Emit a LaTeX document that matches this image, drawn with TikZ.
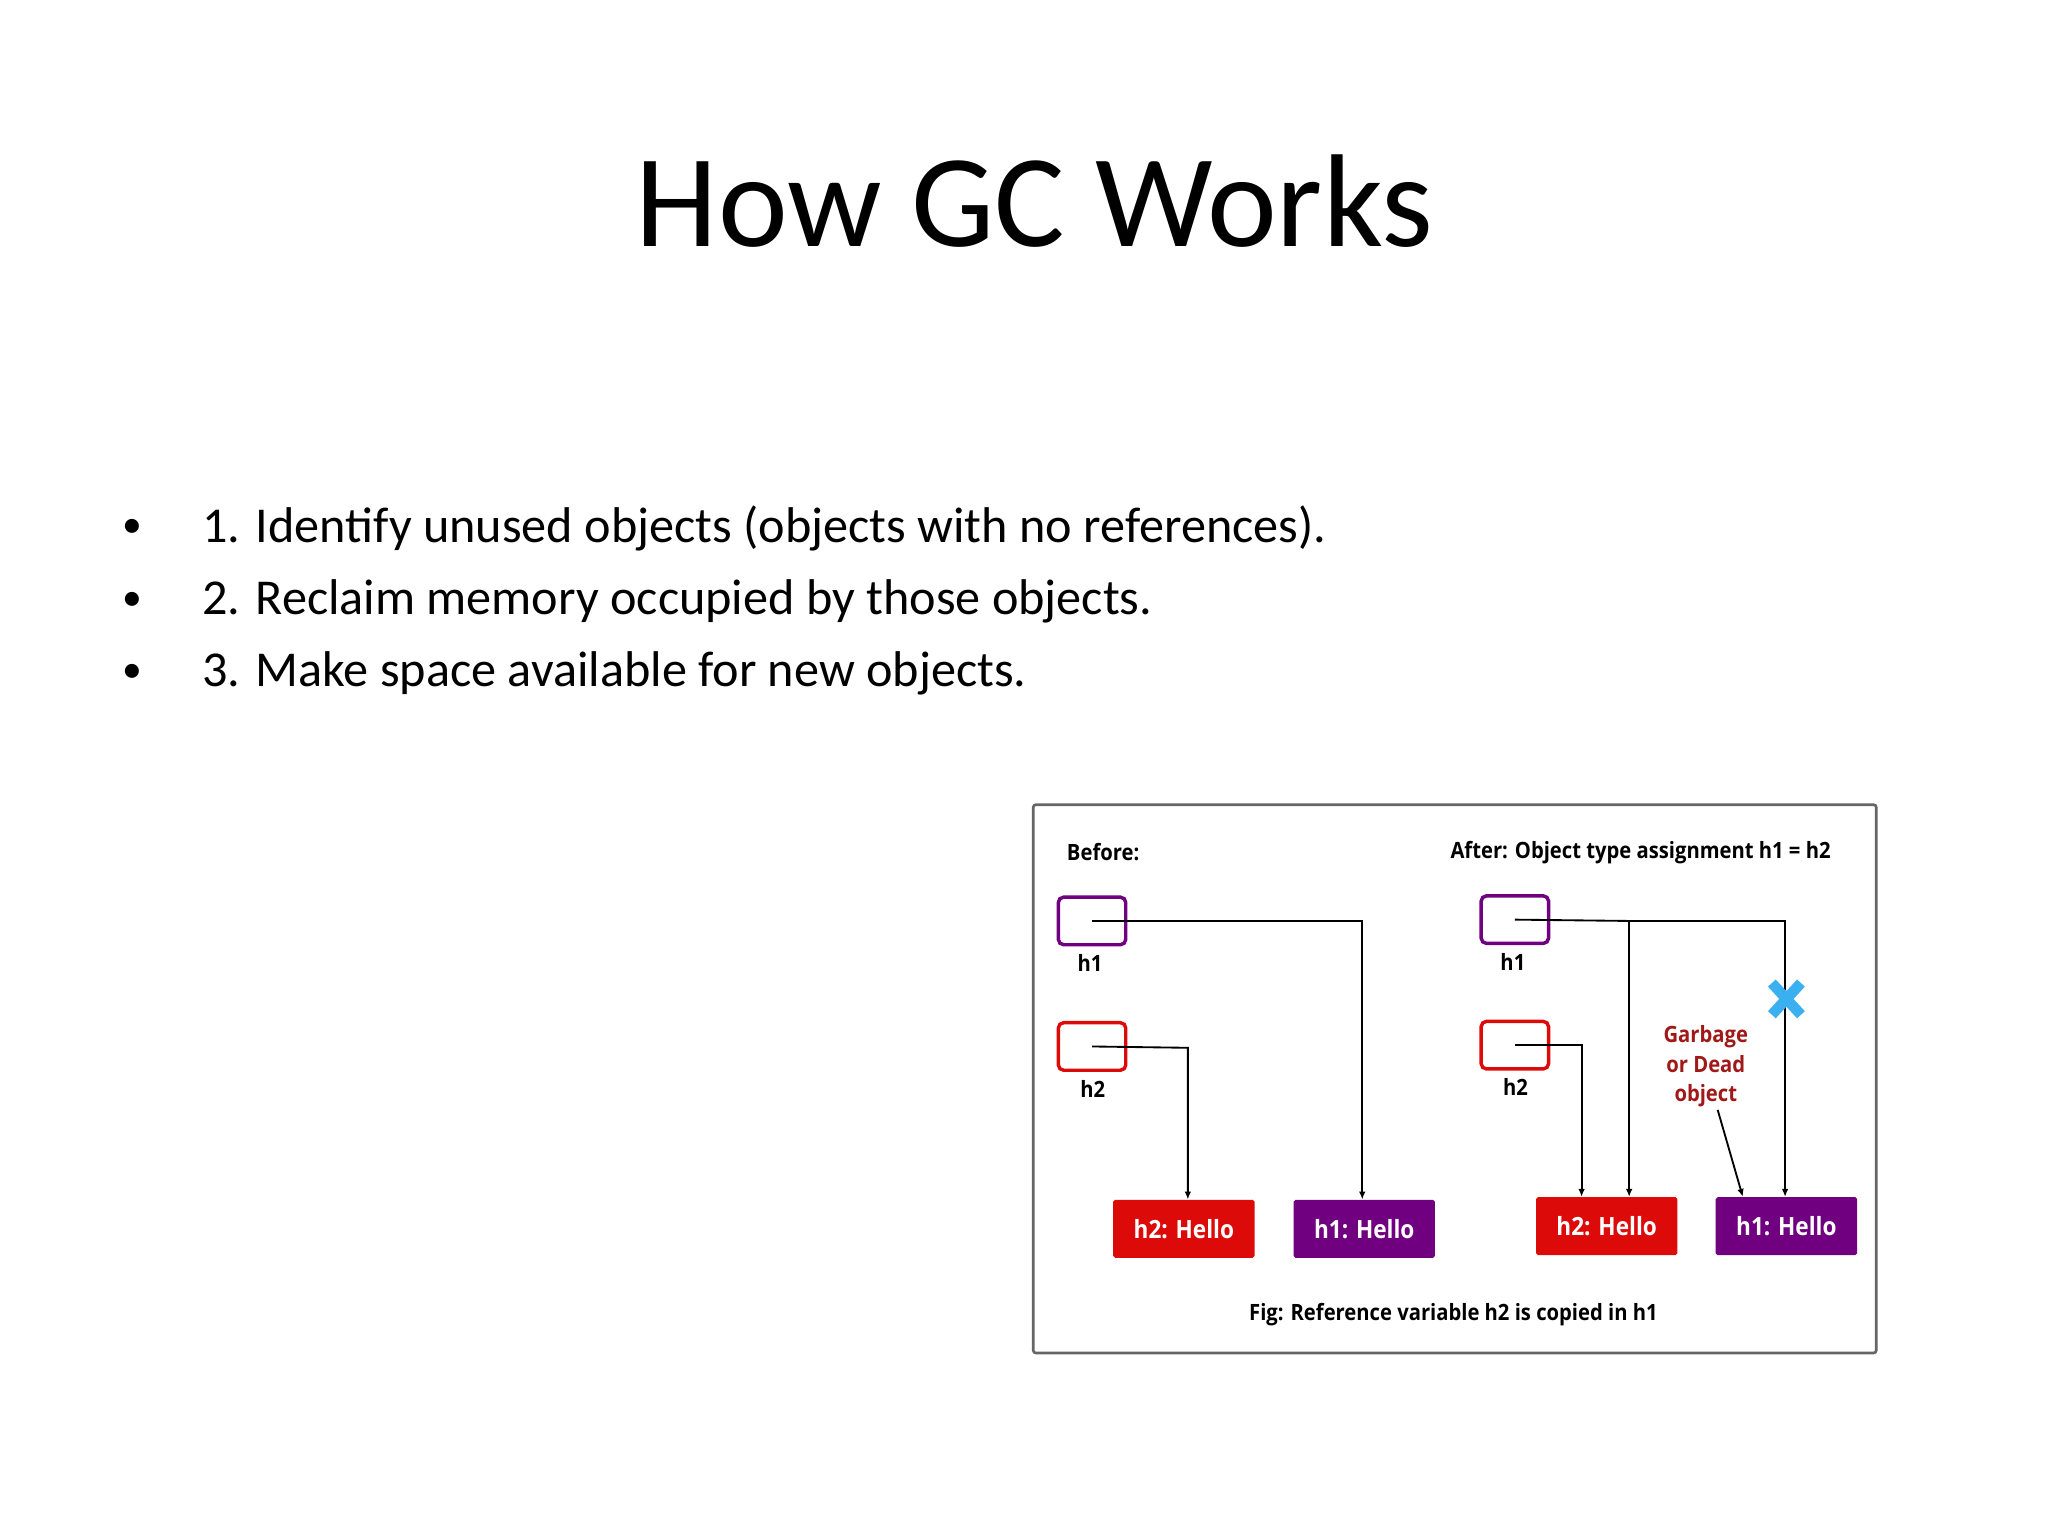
\documentclass[tikz,border=0pt]{standalone}
\usepackage{fontspec}
\setmainfont{Carlito}
\newfontfamily\osb{Open Sans}[FakeStretch=0.9]
\usetikzlibrary{arrows.meta,calc}
\definecolor{pur}{HTML}{700080}
\definecolor{rd}{HTML}{DD0A0A}
\definecolor{drd}{HTML}{A01818}
\definecolor{xb}{HTML}{3BB0F0}
\begin{document}
\begin{tikzpicture}[x=1pt,y=-1pt,
  vbox/.style={draw=#1,line width=2.6pt,rounded corners=4pt,minimum width=51pt,minimum height=36pt,inner sep=0pt},
  obj/.style={fill=#1,rounded corners=1.5pt,minimum width=107pt,minimum height=44pt,inner sep=0pt,text=white,font=\osb\bfseries\fontsize{19}{22}\selectfont},
  lbl/.style={font=\osb\bfseries\fontsize{17}{20}\selectfont},
  ln/.style={line width=1.4pt},
  ar/.style={ln,-{Latex[length=6pt,width=5pt]}}]
\useasboundingbox (0,0) rectangle (1550,1162.5);
\node[font=\fontsize{100}{110}\selectfont] (title) at (783,152) {How GC Works};
\foreach \t [count=\i] in {1. Identify unused objects (objects with no references).,2. Reclaim memory occupied by those objects.,3. Make space available for new objects.}{
  \node[font=\fontsize{30}{34}\selectfont] (b\i) at (100,{345+55*\i}) {\textbullet};
  \node[anchor=west,inner sep=0pt,font=\fontsize{38}{44}\selectfont] (t\i) at (153,{345+55*\i}) {\t};
}
\draw[gray!80!black,line width=2pt,rounded corners=2pt] (782,609) rectangle (1420,1024);
\node[lbl,anchor=west] (bef) at (804,645) {Before:};
\node[lbl,anchor=east] (aft) at (1389,645) {After: Object type assignment h1 = h2};
% before
\node[vbox=pur] (bh1) at (826.5,697) {};
\node[lbl] (bh1l) at (825,729) {h1};
\node[vbox=rd] (bh2) at (826.5,792) {};
\node[lbl] (bh2l) at (827,824) {h2};
\node[obj=rd] (bo2) at (896,930) {h2: Hello};
\node[obj=pur] (bo1) at (1032.5,930) {h1: Hello};
\draw[ar] (bh1.center) -- (1031,697) -- (bo1.north -| 1031,0);
\draw[ar] (bh2.center) -- (899,793) -- (bo2.north -| 899,0);
% after
\node[vbox=pur] (ah1) at (1146.5,696) {};
\node[lbl] (ah1l) at (1145,728) {h1};
\node[vbox=rd] (ah2) at (1146.5,791) {};
\node[lbl] (ah2l) at (1147,823) {h2};
\node[obj=rd] (ao2) at (1216,928) {h2: Hello};
\node[obj=pur] (ao1) at (1352,928) {h1: Hello};
\coordinate (j) at (1233,697);
\draw[ln] (ah1.center) -- (j);
\draw[ar] (j) -- (1351,697) -- (ao1.north -| 1351,0);
\draw[ar] (j) -- (ao2.north -| 1233,0);
\draw[ar] (ah2.center) -- (1197,791) -- (ao2.north -| 1197,0);
\coordinate (x) at (1352,756);
\draw[xb,line width=8pt] ($(x)+(-11,-12)$) -- ($(x)+(11,12)$) ($(x)+(-11,12)$) -- ($(x)+(11,-12)$);
\node[lbl,text=drd,align=center,font=\osb\bfseries\fontsize{17}{22.5}\selectfont] (gb) at (1291,807) {Garbage\\or Dead\\object};
\draw[ar] (1300,840) -- (ao1.north -| 1319,0);
\node[lbl] (cap) at (1100,995) {Fig: Reference variable h2 is copied in h1};
\end{tikzpicture}
\end{document}
